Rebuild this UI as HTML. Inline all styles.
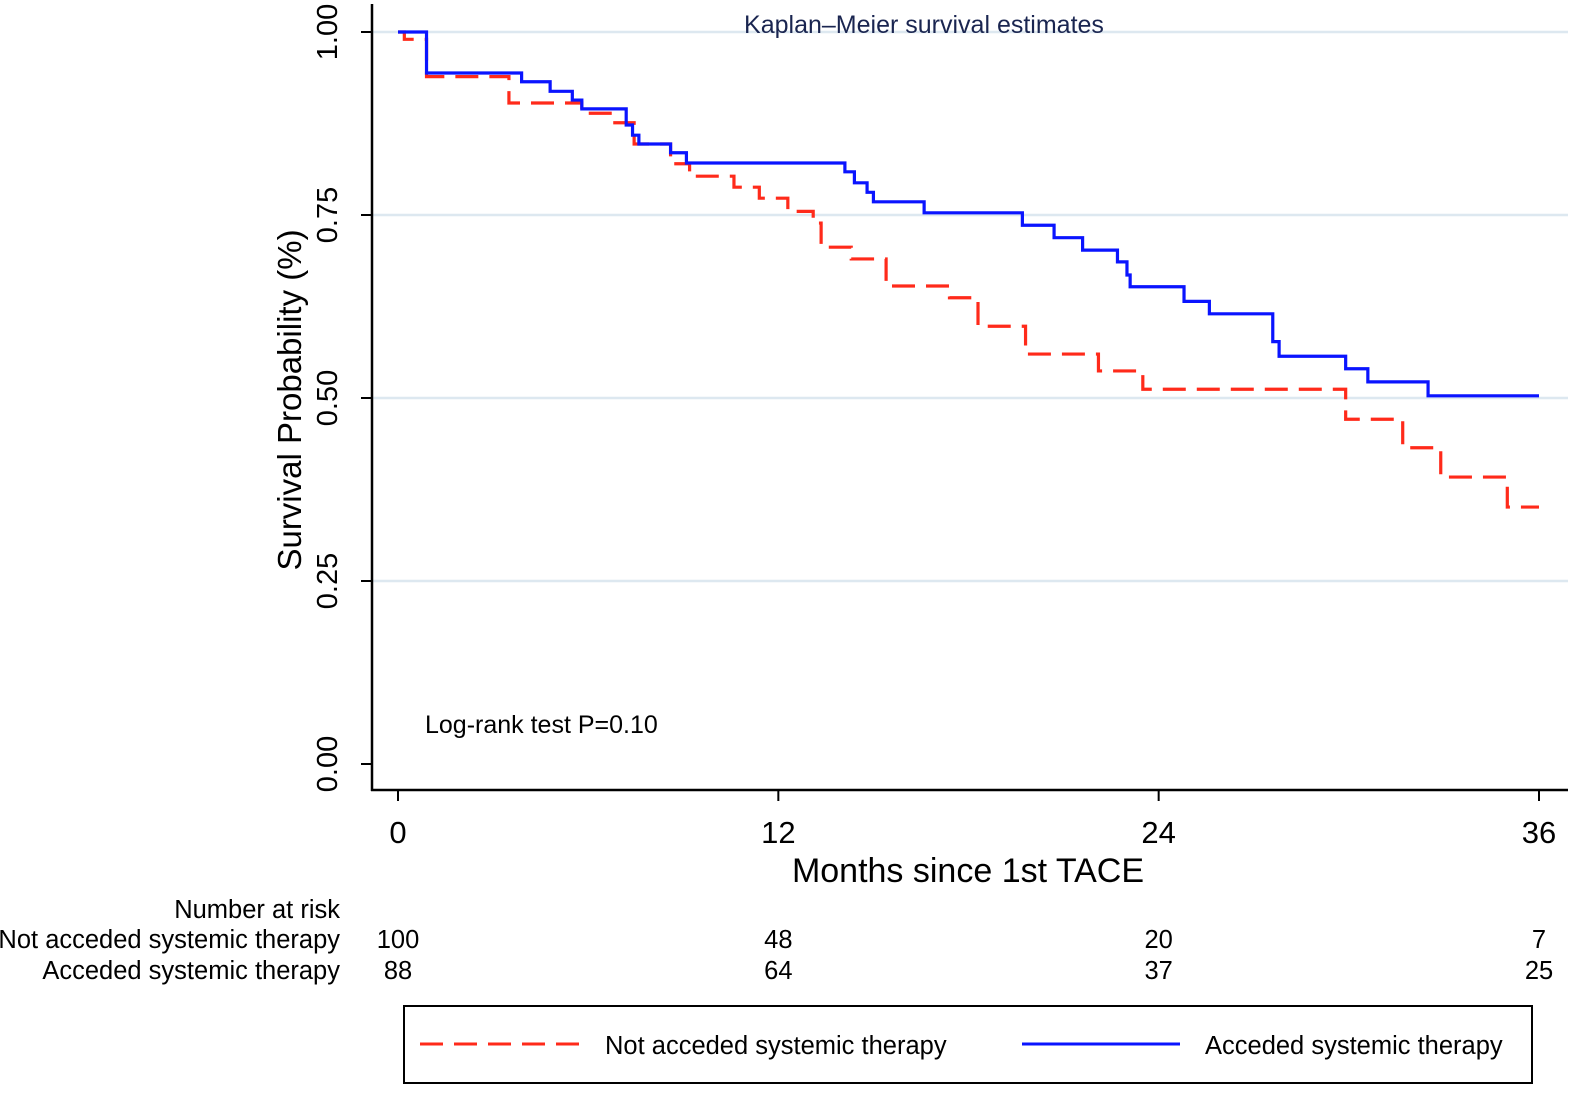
<!DOCTYPE html>
<html><head><meta charset="utf-8"><style>
body{margin:0;background:#fff;}
svg{display:block;font-family:"Liberation Sans",Arial,sans-serif;}
</style></head><body>
<svg id="chart" width="1583" height="1094" viewBox="0 0 1583 1094" xmlns="http://www.w3.org/2000/svg">
<g id="grid"></g>
<g id="axes"></g>
<g id="curves"></g>
<text x="924" y="33" font-size="25" fill="#1a2550" text-anchor="middle">Kaplan–Meier survival estimates</text>
<text x="425" y="733" font-size="25" fill="#000">Log-rank test P=0.10</text>
<text x="968" y="882" font-size="34" fill="#000" text-anchor="middle">Months since 1st TACE</text>
<text transform="translate(301,400) rotate(-90)" font-size="33" fill="#000" text-anchor="middle">Survival Probability (%)</text>
<g id="risk"></g>
<g>
<rect x="404" y="1006" width="1128" height="77" fill="none" stroke="#000" stroke-width="2"/>
<line x1="420" y1="1044" x2="582" y2="1044" stroke="#ff2a1a" stroke-width="3" stroke-dasharray="23,11"/>
<text x="605" y="1054" font-size="25.5">Not acceded systemic therapy</text>
<line x1="1022" y1="1044" x2="1180" y2="1044" stroke="#0a14ff" stroke-width="3"/>
<text x="1205" y="1054" font-size="25.5">Acceded systemic therapy</text>
</g>
</svg>
<script>
const xTicks=[0,12,24,36];
const yTicks=[0,0.25,0.5,0.75,1];
const yTickLabels=["0.00","0.25","0.50","0.75","1.00"];
const blueTimes=[0,0.9,3.9,4.8,5.5,5.8,7.2,7.4,7.6,8.6,9.1,14.1,14.4,14.8,15.0,16.6,19.7,20.7,21.6,22.7,23.0,23.1,24.8,25.6,27.6,27.8,29.9,30.6,32.5];
const blueSurv=[1.0,0.944,0.932,0.919,0.907,0.895,0.873,0.859,0.847,0.835,0.821,0.809,0.794,0.781,0.768,0.753,0.736,0.719,0.702,0.686,0.668,0.652,0.632,0.615,0.577,0.557,0.540,0.522,0.503];
const redTimes=[0,0.2,0.9,3.5,5.8,6.75,7.45,8.6,9.2,10.6,11.4,12.3,13.1,13.35,14.3,15.4,17.4,18.3,19.8,22.1,23.5,29.9,31.7,32.9,35.0];
const redSurv=[1.0,0.99,0.939,0.903,0.889,0.876,0.847,0.820,0.803,0.788,0.773,0.755,0.739,0.706,0.690,0.653,0.637,0.598,0.560,0.537,0.512,0.471,0.432,0.392,0.351];
const riskGroups=["Not acceded systemic therapy","Acceded systemic therapy"];
const riskNot=[100,48,20,7];
const riskAcc=[88,64,37,25];
const xEnd=36;

const NS="http://www.w3.org/2000/svg";
const X=m=>398+m*(1539-398)/36;
const Y=s=>764-s*(764-32);
function mk(tag,attrs,parent,text){const e=document.createElementNS(NS,tag);for(const k in attrs)e.setAttribute(k,attrs[k]);if(text!==undefined)e.textContent=text;parent.appendChild(e);return e;}
const grid=document.getElementById('grid'),axes=document.getElementById('axes'),curves=document.getElementById('curves'),risk=document.getElementById('risk');
yTicks.forEach((v,i)=>{
  if(v>0){const g=mk('line',{x1:373,x2:1568,y1:Y(v),y2:Y(v),stroke:'#dde8f0','stroke-width':2.5},grid);
  
  }
  const t=mk('line',{x1:361,x2:372,y1:Y(v),y2:Y(v),stroke:'#000','stroke-width':2},axes);
  
  
  const l=mk('text',{transform:`translate(337,${Y(v)}) rotate(-90)`,'font-size':29,'text-anchor':'middle'},axes,yTickLabels[i]);
  
  
});
const ya=mk('line',{x1:372,x2:372,y1:4,y2:791,stroke:'#000','stroke-width':2.5},axes);


const xa=mk('line',{x1:371,x2:1568,y1:790,y2:790,stroke:'#000','stroke-width':2.5},axes);


xTicks.forEach(v=>{
  const t=mk('line',{x1:X(v),x2:X(v),y1:790,y2:801,stroke:'#000','stroke-width':2},axes);
  
  
  const l=mk('text',{x:X(v),y:843,'font-size':31,'text-anchor':'middle'},axes,String(v));
  
  
});
function stepPath(ts,ss){let d=`M${X(ts[0])},${Y(ss[0])}`;for(let i=1;i<ts.length;i++){d+=` H${X(ts[i])} V${Y(ss[i])}`;}d+=` H${X(xEnd)}`;return d;}
const rp=mk('path',{d:stepPath(redTimes,redSurv),fill:'none',stroke:'#ff2a1a','stroke-width':3.2,'stroke-dasharray':'23,11'},curves);


const bp=mk('path',{d:stepPath(blueTimes,blueSurv),fill:'none',stroke:'#0a14ff','stroke-width':3.2},curves);


const h=mk('text',{x:340,y:918,'font-size':25.5,'text-anchor':'end'},risk,'Number at risk');


[riskNot,riskAcc].forEach((row,r)=>{
  const y=948+r*31;
  const g=mk('text',{x:340,y:y,'font-size':25.5,'text-anchor':'end'},risk,riskGroups[r]);
  
  
  row.forEach((n,i)=>{
    const c=mk('text',{x:X(xTicks[i]),y:y,'font-size':25.5,'text-anchor':'middle'},risk,String(n));
    
    
  });
});
</script>
</body></html>
